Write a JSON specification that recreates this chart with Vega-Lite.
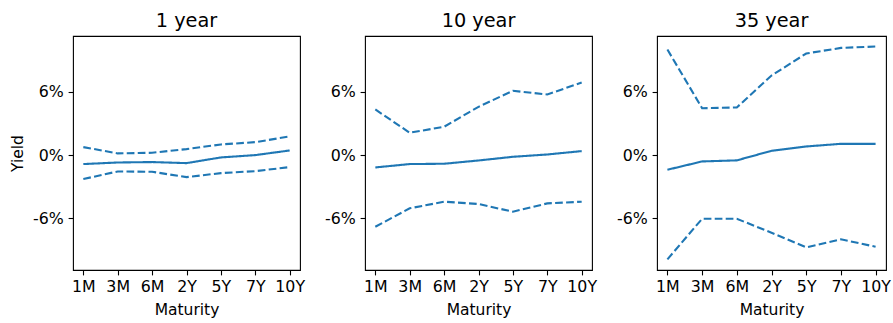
{
  "$schema": "https://vega.github.io/schema/vega-lite/v6.json",
  "background": "white",
  "padding": {"left": 9, "top": 11, "right": 5, "bottom": 5},
  "config": {
    "font": "DejaVu Sans",
    "view": {"stroke": "#000", "strokeWidth": 1.1},
    "concat": {"spacing": 65},
    "axis": {
      "grid": false,
      "domain": false,
      "tickColor": "#000",
      "tickSize": 4.9,
      "tickWidth": 1.1,
      "labelColor": "#000",
      "labelFontSize": 15.8,
      "labelFont": "DejaVu Sans",
      "labelPadding": 4.9,
      "titleColor": "#000",
      "titleFontSize": 15.5,
      "titleFontWeight": "normal",
      "titleFont": "DejaVu Sans"
    },
    "title": {"fontSize": 19.3, "fontWeight": "normal", "font": "DejaVu Sans", "color": "#000", "offset": 5}
  },
  "data": {
    "values": [
      {"horizon": "1 year", "maturity": "1M", "stat": "median", "value": -0.85},
      {"horizon": "1 year", "maturity": "3M", "stat": "median", "value": -0.7},
      {"horizon": "1 year", "maturity": "6M", "stat": "median", "value": -0.66},
      {"horizon": "1 year", "maturity": "2Y", "stat": "median", "value": -0.76},
      {"horizon": "1 year", "maturity": "5Y", "stat": "median", "value": -0.22},
      {"horizon": "1 year", "maturity": "7Y", "stat": "median", "value": 0.0},
      {"horizon": "1 year", "maturity": "10Y", "stat": "median", "value": 0.44},
      {"horizon": "1 year", "maturity": "1M", "stat": "upper", "value": 0.76},
      {"horizon": "1 year", "maturity": "3M", "stat": "upper", "value": 0.16},
      {"horizon": "1 year", "maturity": "6M", "stat": "upper", "value": 0.22},
      {"horizon": "1 year", "maturity": "2Y", "stat": "upper", "value": 0.57},
      {"horizon": "1 year", "maturity": "5Y", "stat": "upper", "value": 1.01},
      {"horizon": "1 year", "maturity": "7Y", "stat": "upper", "value": 1.23},
      {"horizon": "1 year", "maturity": "10Y", "stat": "upper", "value": 1.77},
      {"horizon": "1 year", "maturity": "1M", "stat": "lower", "value": -2.27},
      {"horizon": "1 year", "maturity": "3M", "stat": "lower", "value": -1.55},
      {"horizon": "1 year", "maturity": "6M", "stat": "lower", "value": -1.58},
      {"horizon": "1 year", "maturity": "2Y", "stat": "lower", "value": -2.09},
      {"horizon": "1 year", "maturity": "5Y", "stat": "lower", "value": -1.71},
      {"horizon": "1 year", "maturity": "7Y", "stat": "lower", "value": -1.52},
      {"horizon": "1 year", "maturity": "10Y", "stat": "lower", "value": -1.14},
      {"horizon": "10 year", "maturity": "1M", "stat": "median", "value": -1.17},
      {"horizon": "10 year", "maturity": "3M", "stat": "median", "value": -0.85},
      {"horizon": "10 year", "maturity": "6M", "stat": "median", "value": -0.82},
      {"horizon": "10 year", "maturity": "2Y", "stat": "median", "value": -0.51},
      {"horizon": "10 year", "maturity": "5Y", "stat": "median", "value": -0.16},
      {"horizon": "10 year", "maturity": "7Y", "stat": "median", "value": 0.06},
      {"horizon": "10 year", "maturity": "10Y", "stat": "median", "value": 0.38},
      {"horizon": "10 year", "maturity": "1M", "stat": "upper", "value": 4.33},
      {"horizon": "10 year", "maturity": "3M", "stat": "upper", "value": 2.12},
      {"horizon": "10 year", "maturity": "6M", "stat": "upper", "value": 2.69},
      {"horizon": "10 year", "maturity": "2Y", "stat": "upper", "value": 4.58},
      {"horizon": "10 year", "maturity": "5Y", "stat": "upper", "value": 6.1},
      {"horizon": "10 year", "maturity": "7Y", "stat": "upper", "value": 5.75},
      {"horizon": "10 year", "maturity": "10Y", "stat": "upper", "value": 6.89},
      {"horizon": "10 year", "maturity": "1M", "stat": "lower", "value": -6.8},
      {"horizon": "10 year", "maturity": "3M", "stat": "lower", "value": -5.05},
      {"horizon": "10 year", "maturity": "6M", "stat": "lower", "value": -4.42},
      {"horizon": "10 year", "maturity": "2Y", "stat": "lower", "value": -4.64},
      {"horizon": "10 year", "maturity": "5Y", "stat": "lower", "value": -5.37},
      {"horizon": "10 year", "maturity": "7Y", "stat": "lower", "value": -4.58},
      {"horizon": "10 year", "maturity": "10Y", "stat": "lower", "value": -4.42},
      {"horizon": "35 year", "maturity": "1M", "stat": "median", "value": -1.39},
      {"horizon": "35 year", "maturity": "3M", "stat": "median", "value": -0.6},
      {"horizon": "35 year", "maturity": "6M", "stat": "median", "value": -0.5},
      {"horizon": "35 year", "maturity": "2Y", "stat": "median", "value": 0.41},
      {"horizon": "35 year", "maturity": "5Y", "stat": "median", "value": 0.82},
      {"horizon": "35 year", "maturity": "7Y", "stat": "median", "value": 1.07},
      {"horizon": "35 year", "maturity": "10Y", "stat": "median", "value": 1.07},
      {"horizon": "35 year", "maturity": "1M", "stat": "upper", "value": 10.02},
      {"horizon": "35 year", "maturity": "3M", "stat": "upper", "value": 4.45},
      {"horizon": "35 year", "maturity": "6M", "stat": "upper", "value": 4.52},
      {"horizon": "35 year", "maturity": "2Y", "stat": "upper", "value": 7.55},
      {"horizon": "35 year", "maturity": "5Y", "stat": "upper", "value": 9.64},
      {"horizon": "35 year", "maturity": "7Y", "stat": "upper", "value": 10.17},
      {"horizon": "35 year", "maturity": "10Y", "stat": "upper", "value": 10.3},
      {"horizon": "35 year", "maturity": "1M", "stat": "lower", "value": -9.89},
      {"horizon": "35 year", "maturity": "3M", "stat": "lower", "value": -6.04},
      {"horizon": "35 year", "maturity": "6M", "stat": "lower", "value": -6.04},
      {"horizon": "35 year", "maturity": "2Y", "stat": "lower", "value": -7.36},
      {"horizon": "35 year", "maturity": "5Y", "stat": "lower", "value": -8.75},
      {"horizon": "35 year", "maturity": "7Y", "stat": "lower", "value": -7.99},
      {"horizon": "35 year", "maturity": "10Y", "stat": "lower", "value": -8.69}
    ]
  },
  "bounds": "flush",
  "hconcat": [
    {
      "title": "1 year",
      "width": 227, "height": 234,
      "transform": [{"filter": "datum.horizon === '1 year'"}],
      "mark": {"type": "line", "color": "#1f77b4", "strokeWidth": 2.1},
      "encoding": {
        "x": {"field": "maturity", "type": "ordinal", "sort": ["1M","3M","6M","2Y","5Y","7Y","10Y"], "scale": {"type": "point", "padding": 0.3}, "axis": {"title": "Maturity", "labelAngle": 0, "titlePadding": 8}},
        "y": {"field": "value", "type": "quantitative", "scale": {"domain": [-10.9, 11.3], "nice": false, "zero": false}, "axis": {"title": "Yield", "values": [-6, 0, 6], "labelExpr": "datum.value + '%'", "titlePadding": 7}},
        "detail": {"field": "stat"},
        "strokeDash": {"field": "stat", "type": "nominal", "scale": {"domain": ["median", "upper", "lower"], "range": [[1, 0], [7.7, 3.3], [7.7, 3.3]]}, "legend": null}
      }
    },
    {
      "title": "10 year",
      "width": 227, "height": 234,
      "transform": [{"filter": "datum.horizon === '10 year'"}],
      "mark": {"type": "line", "color": "#1f77b4", "strokeWidth": 2.1},
      "encoding": {
        "x": {"field": "maturity", "type": "ordinal", "sort": ["1M","3M","6M","2Y","5Y","7Y","10Y"], "scale": {"type": "point", "padding": 0.3}, "axis": {"title": "Maturity", "labelAngle": 0, "titlePadding": 8}},
        "y": {"field": "value", "type": "quantitative", "scale": {"domain": [-10.9, 11.3], "nice": false, "zero": false}, "axis": {"title": null, "values": [-6, 0, 6], "labelExpr": "datum.value + '%'"}},
        "detail": {"field": "stat"},
        "strokeDash": {"field": "stat", "type": "nominal", "scale": {"domain": ["median", "upper", "lower"], "range": [[1, 0], [7.7, 3.3], [7.7, 3.3]]}, "legend": null}
      }
    },
    {
      "title": "35 year",
      "width": 229, "height": 234,
      "transform": [{"filter": "datum.horizon === '35 year'"}],
      "mark": {"type": "line", "color": "#1f77b4", "strokeWidth": 2.1},
      "encoding": {
        "x": {"field": "maturity", "type": "ordinal", "sort": ["1M","3M","6M","2Y","5Y","7Y","10Y"], "scale": {"type": "point", "padding": 0.3}, "axis": {"title": "Maturity", "labelAngle": 0, "titlePadding": 8}},
        "y": {"field": "value", "type": "quantitative", "scale": {"domain": [-10.9, 11.3], "nice": false, "zero": false}, "axis": {"title": null, "values": [-6, 0, 6], "labelExpr": "datum.value + '%'"}},
        "detail": {"field": "stat"},
        "strokeDash": {"field": "stat", "type": "nominal", "scale": {"domain": ["median", "upper", "lower"], "range": [[1, 0], [7.7, 3.3], [7.7, 3.3]]}, "legend": null}
      }
    }
  ],
  "resolve": {"scale": {"y": "independent", "x": "independent", "strokeDash": "independent"}}
}
